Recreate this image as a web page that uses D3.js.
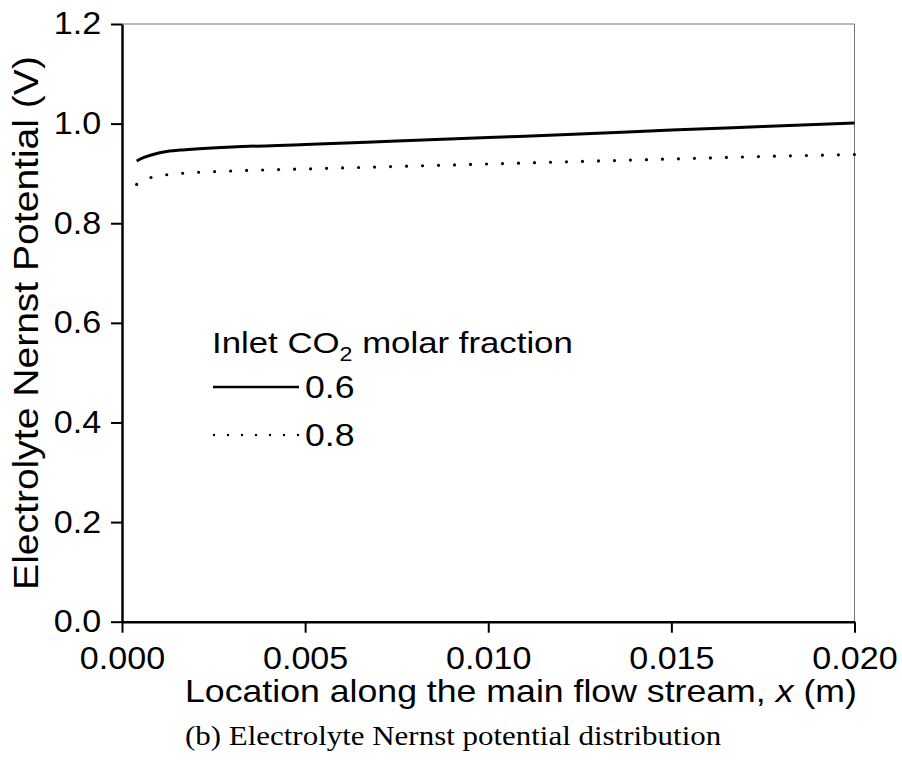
<!DOCTYPE html>
<html>
<head>
<meta charset="utf-8">
<script src="https://cdn.jsdelivr.net/npm/d3@7"></script>
<style>
  html, body { margin: 0; padding: 0; background: #fff; }
  svg { display: block; }
</style>
</head>
<body>
<svg id="chart" width="902" height="760"></svg>
<script>
// Location along the flow stream (m)
const xPos = [0.0004, 0.0006, 0.0008, 0.001, 0.0013, 0.0016, 0.002, 0.003, 0.005, 0.0075, 0.01, 0.0125, 0.015, 0.0175, 0.02];
// Nernst potential (V) for inlet CO2 molar fraction 0.6 and 0.8
const nernst06 = [0.925, 0.932, 0.937, 0.941, 0.945, 0.947, 0.949, 0.953, 0.958, 0.965, 0.972, 0.979, 0.987, 0.994, 1.001];
const nernst08 = [0.878, 0.887, 0.892, 0.895, 0.898, 0.900, 0.902, 0.905, 0.909, 0.914, 0.919, 0.924, 0.929, 0.934, 0.938];
const seriesNames = ["0.6", "0.8"];
const xTicks = [0, 0.005, 0.01, 0.015, 0.02];
const yTicks = [0, 0.2, 0.4, 0.6, 0.8, 1.0, 1.2];

const SANS = "'Liberation Sans', Arial, Helvetica, sans-serif";
const SERIF = "'Liberation Serif', 'Times New Roman', serif";

const svg = d3.select("#chart");
const plotL = 122, plotR = 854.5, plotT = 24, plotB = 621.7;

const x = d3.scaleLinear().domain([0, 0.02]).range([plotL, plotR]);
const y = d3.scaleLinear().domain([0, 1.2]).range([plotB, plotT]);

// stretch a text element horizontally (in its own frame) to a given width
function fitWidth(sel, width, tx, ty, rot) {
  const w = sel.node().getBBox().width;
  const s = width / w;
  sel.attr("transform", `translate(${tx},${ty})${rot ? ` rotate(${rot})` : ""} scale(${s},1)`);
}

// frame: thin grey top and right edges
svg.append("line").attr("x1", plotL).attr("x2", plotR).attr("y1", plotT).attr("y2", plotT)
  .attr("stroke", "#777").attr("stroke-width", 1);
svg.append("line").attr("x1", plotR).attr("x2", plotR).attr("y1", plotT).attr("y2", plotB)
  .attr("stroke", "#777").attr("stroke-width", 1);

// axes
const xAxis = svg.append("g").attr("transform", `translate(0,${plotB})`)
  .call(d3.axisBottom(x).tickValues(xTicks).tickFormat(d3.format(".3f"))
    .tickSizeInner(11).tickSizeOuter(0).tickPadding(14));
const yAxis = svg.append("g").attr("transform", `translate(${plotL},0)`)
  .call(d3.axisLeft(y).tickValues(yTicks).tickFormat(d3.format(".1f"))
    .tickSizeInner(11).tickSizeOuter(0).tickPadding(8));

[xAxis, yAxis].forEach(g => {
  g.select(".domain").attr("stroke", "#000").attr("stroke-width", 2.5);
  g.selectAll(".tick line").attr("stroke", "#000").attr("stroke-width", 2);
  g.selectAll(".tick text")
    .style("font-family", SANS).style("font-size", "31px").attr("fill", "#000")
    .attr("transform", "scale(1.1,1)");
});

// x-axis title
const xTitle = svg.append("text")
  .style("font-family", SANS).style("font-size", "31px").attr("fill", "#000");
xTitle.append("tspan").text("Location along the main flow stream, ");
xTitle.append("tspan").style("font-style", "italic").text("x");
xTitle.append("tspan").text(" (m)");
fitWidth(xTitle, 672, 185, 702);

// y-axis title
const yTitle = svg.append("text")
  .style("font-family", SANS).style("font-size", "36px").attr("fill", "#000")
  .attr("text-anchor", "middle")
  .text("Electrolyte Nernst Potential (V)");
fitWidth(yTitle, 534, 38, 323, -90);

// caption
const caption = svg.append("text")
  .style("font-family", SERIF).style("font-size", "27px").attr("fill", "#000")
  .text("(b) Electrolyte Nernst potential distribution");
fitWidth(caption, 537, 185, 745);

// curves
const line = d3.line().x(d => x(d[0])).y(d => y(d[1])).curve(d3.curveMonotoneX);
const data06 = xPos.map((v, i) => [v, nernst06[i]]);
const data08 = xPos.map((v, i) => [v, nernst08[i]]);

svg.append("path").datum(data06).attr("d", line)
  .attr("fill", "none").attr("stroke", "#000").attr("stroke-width", 3);
svg.append("path").datum(data08).attr("d", line)
  .attr("fill", "none").attr("stroke", "#000").attr("stroke-width", 3.2)
  .attr("stroke-linecap", "round").attr("stroke-dasharray", "0 16");

// legend
const lg = svg.append("g");
const lgTitle = lg.append("text")
  .style("font-family", SANS).style("font-size", "30px").attr("fill", "#000");
lgTitle.append("tspan").text("Inlet CO");
lgTitle.append("tspan").style("font-size", "20px").attr("dy", 8).text("2");
lgTitle.append("tspan").attr("dy", -8).text(" molar fraction");
fitWidth(lgTitle, 361, 212, 353);

lg.append("line").attr("x1", 213).attr("x2", 299).attr("y1", 387).attr("y2", 387)
  .attr("stroke", "#000").attr("stroke-width", 2.5);
lg.append("line").attr("x1", 214).attr("x2", 299).attr("y1", 435).attr("y2", 435)
  .attr("stroke", "#000").attr("stroke-width", 2.4)
  .attr("stroke-linecap", "round").attr("stroke-dasharray", "0 14");

seriesNames.forEach((name, i) => {
  lg.append("text")
    .style("font-family", SANS).style("font-size", "31px").attr("fill", "#000")
    .attr("transform", `translate(305,${398 + i * 48}) scale(1.15,1)`)
    .text(name);
});
</script>
</body>
</html>
